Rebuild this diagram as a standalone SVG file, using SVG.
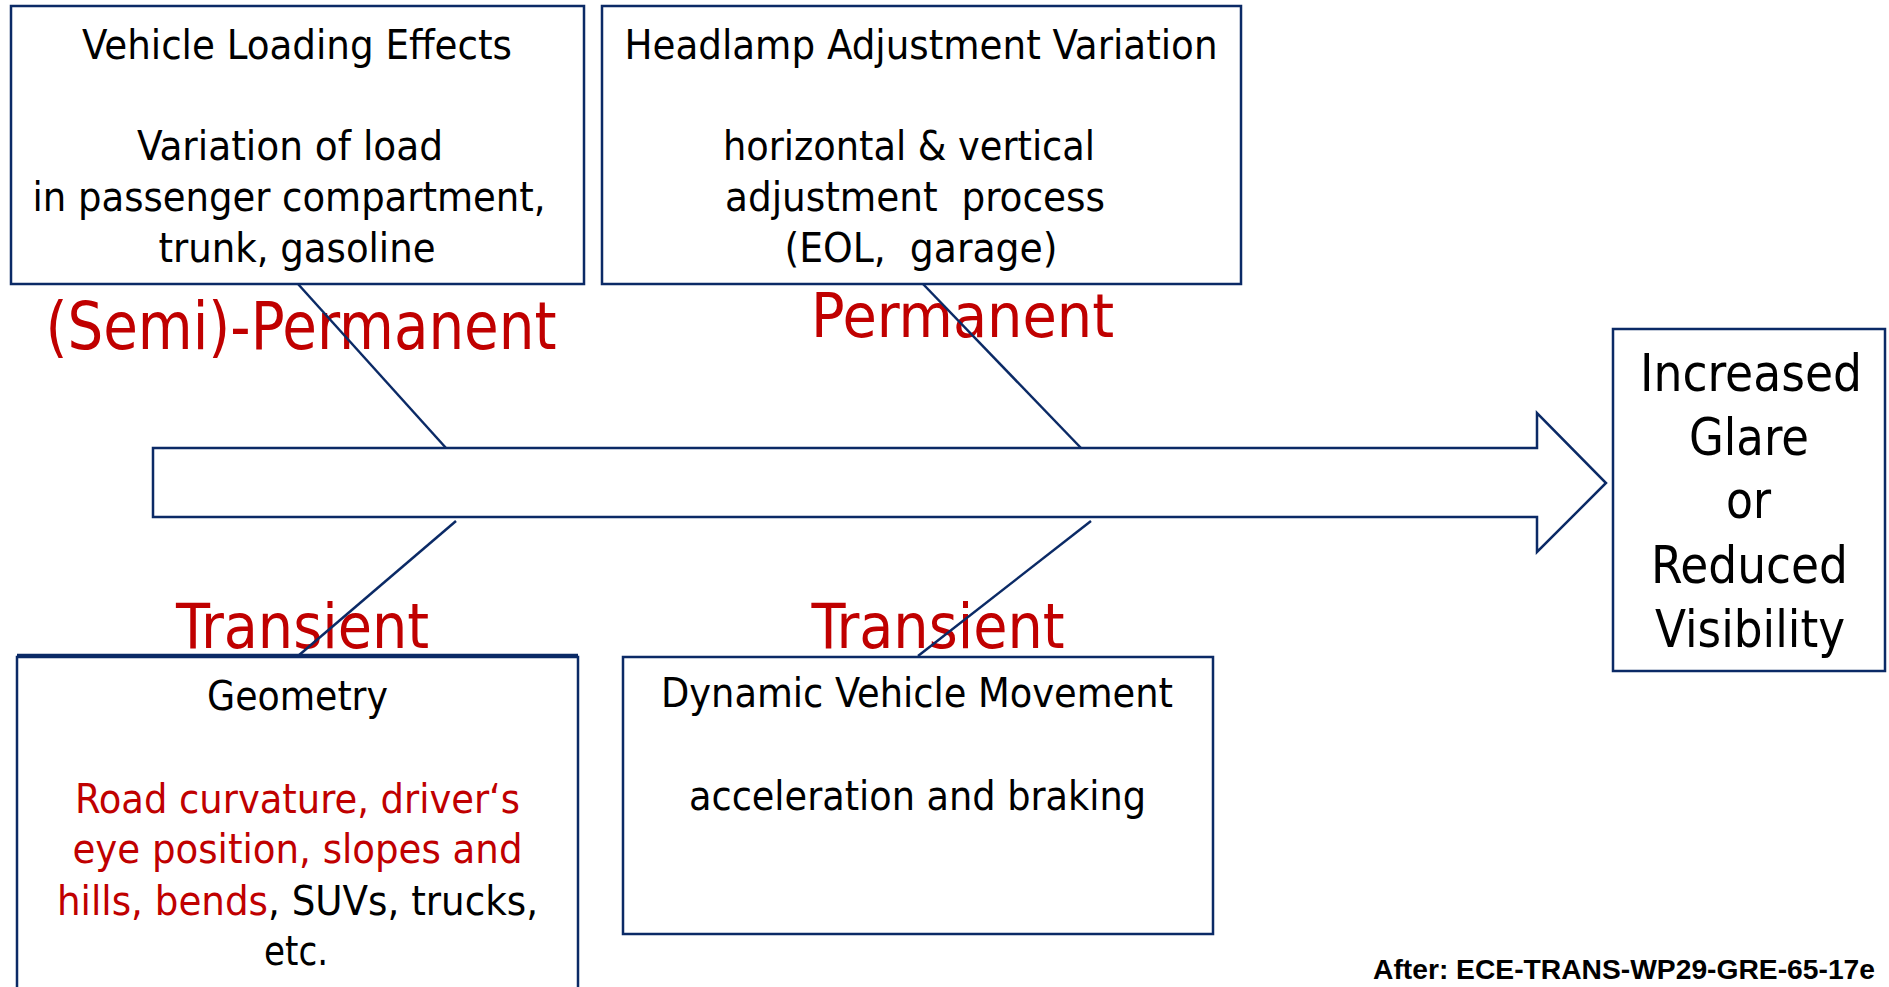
<svg xmlns="http://www.w3.org/2000/svg" width="1889" height="987" viewBox="0 0 1889 987">
<style>
.box{fill:#ffffff;stroke:#0b2a66;stroke-width:2.5}
.t{font-family:"DejaVu Sans Condensed","DejaVu Sans",sans-serif;font-size:40px;fill:#000;text-anchor:middle}
.big{font-family:"DejaVu Sans Condensed","DejaVu Sans",sans-serif;font-size:52px;fill:#000;text-anchor:middle}
.lbl{font-family:"DejaVu Sans Condensed","DejaVu Sans",sans-serif;fill:#c00000;text-anchor:middle}
.red{fill:#c00000}
.pre{white-space:pre}
.con{stroke:#0b2a66;stroke-width:2.5;fill:none}
.note{font-family:"Liberation Sans",Arial,sans-serif;font-weight:bold;font-size:27px;fill:#000}
</style>
<rect width="1889" height="987" fill="#ffffff"/>

<g id="vehicle-loading">
<rect class="box" x="11" y="6" width="573" height="278"/>
<text class="t" x="297" y="59" textLength="430" lengthAdjust="spacingAndGlyphs">Vehicle Loading Effects</text>
<text class="t" x="290" y="160" textLength="306" lengthAdjust="spacingAndGlyphs">Variation of load</text>
<text class="t" x="289" y="211" textLength="513" lengthAdjust="spacingAndGlyphs">in passenger compartment,</text>
<text class="t" x="297" y="262" textLength="277" lengthAdjust="spacingAndGlyphs">trunk, gasoline</text>
</g>

<g id="headlamp-adjustment">
<rect class="box" x="602" y="6" width="639" height="278"/>
<text class="t" x="921" y="59" textLength="593" lengthAdjust="spacingAndGlyphs">Headlamp Adjustment Variation</text>
<text class="t" x="909" y="160" textLength="372" lengthAdjust="spacingAndGlyphs">horizontal &amp; vertical</text>
<text class="t pre" xml:space="preserve" x="915" y="211" textLength="380" lengthAdjust="spacingAndGlyphs">adjustment  process</text>
<text class="t pre" xml:space="preserve" x="921" y="262" textLength="273" lengthAdjust="spacingAndGlyphs">(EOL,  garage)</text>
</g>

<g id="geometry">
<rect class="box" x="17" y="657" width="561" height="340"/>
<line x1="17" y1="655" x2="578" y2="655" stroke="#0b2a66" stroke-width="2.5"/>
<text class="t" x="297.5" y="710" textLength="181" lengthAdjust="spacingAndGlyphs">Geometry</text>
<text class="t red" x="297.5" y="813" textLength="445" lengthAdjust="spacingAndGlyphs">Road curvature, driver‘s</text>
<text class="t red" x="297.5" y="863" textLength="450" lengthAdjust="spacingAndGlyphs">eye position, slopes and</text>
<text class="t" x="297.5" y="915" textLength="481" lengthAdjust="spacingAndGlyphs"><tspan class="red">hills, bends</tspan>, SUVs, trucks,</text>
<text class="t" x="296" y="965" textLength="64" lengthAdjust="spacingAndGlyphs">etc.</text>
</g>

<g id="dynamic-movement">
<rect class="box" x="623" y="657" width="590" height="277"/>
<text class="t" x="917" y="707" textLength="512" lengthAdjust="spacingAndGlyphs">Dynamic Vehicle Movement</text>
<text class="t" x="917.5" y="810" textLength="457" lengthAdjust="spacingAndGlyphs">acceleration and braking</text>
</g>

<g id="result">
<rect class="box" x="1613" y="329" width="272" height="342"/>
<text class="big" x="1751" y="391" textLength="222" lengthAdjust="spacingAndGlyphs">Increased</text>
<text class="big" x="1749" y="455" textLength="120" lengthAdjust="spacingAndGlyphs">Glare</text>
<text class="big" x="1748.5" y="518" textLength="45" lengthAdjust="spacingAndGlyphs">or</text>
<text class="big" x="1749.5" y="583" textLength="197" lengthAdjust="spacingAndGlyphs">Reduced</text>
<text class="big" x="1750" y="647" textLength="190" lengthAdjust="spacingAndGlyphs">Visibility</text>
</g>

<g id="labels">
<text class="lbl" x="301" y="349" font-size="66" textLength="511" lengthAdjust="spacingAndGlyphs">(Semi)-Permanent</text>
<text class="lbl" x="962.5" y="337" font-size="60" textLength="303" lengthAdjust="spacingAndGlyphs">Permanent</text>
<text class="lbl" x="302.5" y="648" font-size="62" textLength="253" lengthAdjust="spacingAndGlyphs">Transient</text>
<text class="lbl" x="938" y="648" font-size="62" textLength="253" lengthAdjust="spacingAndGlyphs">Transient</text>
</g>

<g id="main-arrow">
<polygon class="box" points="153,448 1537,448 1537,413 1606,483 1537,552 1537,517 153,517"/>
</g>

<g id="connectors">
<line class="con" x1="298" y1="284" x2="446" y2="448"/>
<line class="con" x1="923" y1="284" x2="1081" y2="448"/>
<line class="con" x1="456" y1="521" x2="298" y2="656"/>
<line class="con" x1="1091" y1="521" x2="918" y2="656"/>
</g>

<text class="note" x="1373" y="979" textLength="502" lengthAdjust="spacingAndGlyphs">After: ECE-TRANS-WP29-GRE-65-17e</text>
</svg>
